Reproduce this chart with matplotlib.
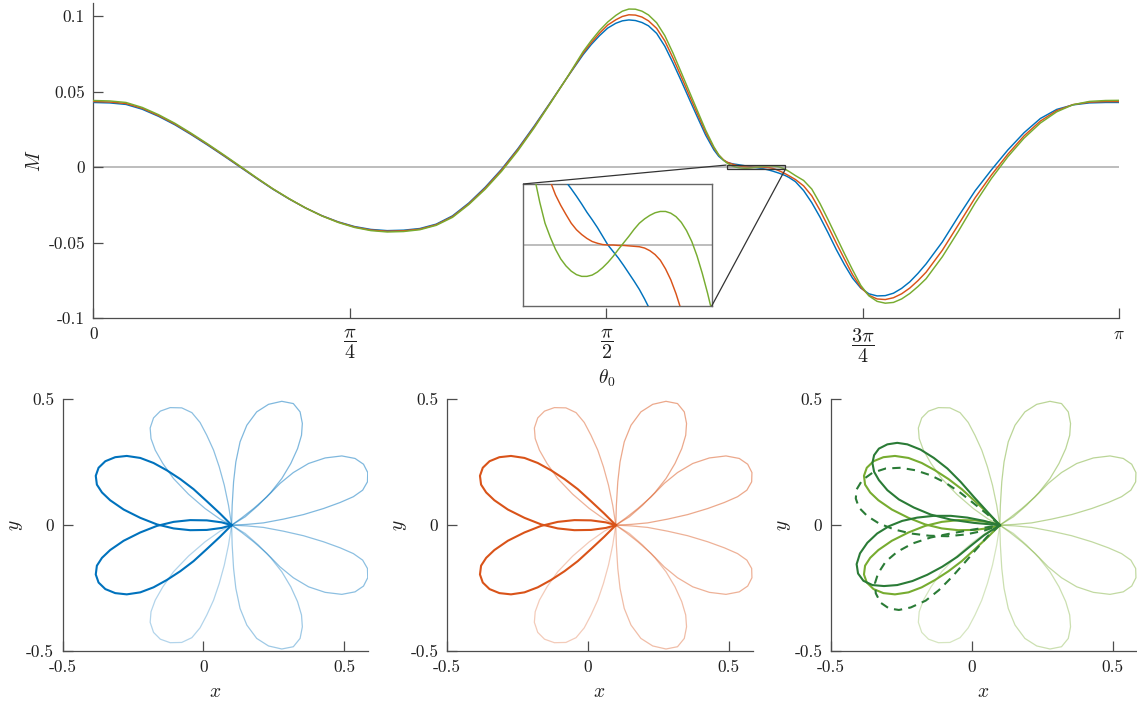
"""Torque curve M(theta_0) with zoomed inset, plus three flower-orbit panels."""

import numpy as np
import matplotlib
matplotlib.use("Agg")
import matplotlib.pyplot as plt
import matplotlib.patches as patches
from mpl_toolkits.axes_grid1.inset_locator import mark_inset

plt.rcParams["font.family"] = "cmr10"
plt.rcParams["mathtext.fontset"] = "cm"
plt.rcParams["axes.unicode_minus"] = False
plt.rcParams["axes.formatter.use_mathtext"] = True

# ---------------------------------------------------------------- top panel data
theta = [0.0, 0.05, 0.1, 0.15, 0.2, 0.25, 0.3, 0.35, 0.4, 0.45, 0.5, 0.55, 0.6, 0.65,
         0.7, 0.75, 0.8, 0.85, 0.9, 0.95, 1.0, 1.05, 1.1, 1.15, 1.2, 1.25, 1.3, 1.35,
         1.4, 1.45, 1.5,
         1.525, 1.55, 1.575, 1.6, 1.62, 1.64, 1.66, 1.68, 1.7, 1.725, 1.75, 1.775,
         1.8, 1.825, 1.85, 1.875, 1.9, 1.915, 1.93,
         1.94, 1.945, 1.95, 1.955, 1.96, 1.965, 1.97, 1.975, 1.98, 1.985, 1.99, 1.995,
         2.0, 2.005, 2.01, 2.015, 2.02, 2.025, 2.03, 2.035, 2.04, 2.045, 2.05, 2.055,
         2.06, 2.065, 2.07, 2.075, 2.08, 2.085, 2.09, 2.095, 2.1, 2.105, 2.11, 2.115,
         2.12, 2.125, 2.13,
         2.15, 2.175, 2.2, 2.225, 2.25, 2.275, 2.3, 2.325, 2.35, 2.375, 2.4, 2.425,
         2.45, 2.475, 2.5, 2.525, 2.55,
         2.6, 2.65, 2.7, 2.75, 2.8, 2.85, 2.9, 2.95, 3.0, 3.05, 3.1, 3.1416]

m_blue = [0.0428, 0.0425, 0.0415, 0.0383, 0.0336, 0.0280, 0.0215, 0.0146, 0.0074, 0.0,
          -0.0074, -0.0146, -0.0211, -0.0270, -0.0321, -0.0362, -0.0393, -0.0412,
          -0.0420, -0.0417, -0.0406, -0.0377, -0.0322, -0.0237, -0.0133, -0.0014,
          0.0122, 0.0272, 0.0430, 0.0590, 0.0745,
          0.0812, 0.0870, 0.0920, 0.0952, 0.0968, 0.0974, 0.0970, 0.0957, 0.0935,
          0.0885, 0.0800, 0.0690, 0.0572, 0.0450, 0.0330, 0.0212, 0.0115, 0.0072, 0.0045,
          0.0032, 0.0029, 0.0026, 0.00235, 0.0021, 0.00195, 0.0018, 0.00163, 0.00145,
          0.00129, 0.00112, 0.00094, 0.00075, 0.00058, 0.0004, 0.0002, 0.0, -0.00015,
          -0.0003, -0.00047, -0.00065, -0.00083, -0.00102, -0.00124, -0.00148, -0.00173,
          -0.0020, -0.0023, -0.0026, -0.00295, -0.0033, -0.00365, -0.0040, -0.0044,
          -0.0048, -0.00525, -0.0057, -0.00625, -0.0068,
          -0.0096, -0.0155, -0.0235, -0.0330, -0.0435, -0.0545, -0.0645, -0.0735,
          -0.0800, -0.0838, -0.0852, -0.0850, -0.0834, -0.0802, -0.0759, -0.0703, -0.0640,
          -0.0494, -0.0322, -0.0157, -0.0018, 0.0113, 0.0228, 0.0322, 0.0382, 0.0412,
          0.0425, 0.0428, 0.0428]

m_red = [0.0434, 0.0431, 0.0421, 0.0389, 0.0341, 0.0285, 0.0219, 0.0150, 0.0077, 0.0003,
         -0.0072, -0.0144, -0.0210, -0.0270, -0.0322, -0.0364, -0.0396, -0.0416,
         -0.0424, -0.0421, -0.0410, -0.0381, -0.0327, -0.0242, -0.0139, -0.0020,
         0.0116, 0.0266, 0.0427, 0.0590, 0.0755,
         0.0824, 0.0886, 0.0940, 0.0975, 0.0997, 0.1008, 0.1006, 0.0993, 0.0968,
         0.0918, 0.0835, 0.0722, 0.0600, 0.0475, 0.0352, 0.0230, 0.0128, 0.0080, 0.0048,
         0.0034, 0.00293, 0.0025, 0.00213, 0.0018, 0.00146, 0.00115, 0.00091, 0.0007,
         0.0005, 0.00035, 0.00024, 0.00015, 0.00008, 0.00004, 0.00001, 0.0, 0.0,
         -0.00001, -0.00001, -0.00002, -0.00003, -0.00004, -0.00007, -0.00013, -0.00022,
         -0.00035, -0.00055, -0.0008, -0.00112, -0.0015, -0.00193, -0.0024, -0.0029,
         -0.0034, -0.00395, -0.0045, -0.0051, -0.0057,
         -0.0082, -0.0124, -0.0190, -0.0285, -0.0392, -0.0502, -0.0608, -0.0712,
         -0.0795, -0.0848, -0.0872, -0.0876, -0.0864, -0.0838, -0.0800, -0.0751, -0.0695,
         -0.0549, -0.0377, -0.0203, -0.0052, 0.0085, 0.0207, 0.0305, 0.0374, 0.0414,
         0.0430, 0.0434, 0.0434]

m_green = [0.0441, 0.0438, 0.0428, 0.0395, 0.0347, 0.0290, 0.0224, 0.0154, 0.0081, 0.0006,
           -0.0070, -0.0143, -0.0209, -0.0270, -0.0323, -0.0366, -0.0399, -0.0420,
           -0.0429, -0.0426, -0.0414, -0.0385, -0.0332, -0.0247, -0.0146, -0.0028,
           0.0108, 0.0260, 0.0424, 0.0591, 0.0765,
           0.0838, 0.0904, 0.0960, 0.1004, 0.1032, 0.1046, 0.1045, 0.1032, 0.1007,
           0.0955, 0.0870, 0.0755, 0.0628, 0.0500, 0.0372, 0.0245, 0.0135, 0.0082, 0.0045,
           0.0028, 0.0021, 0.00155, 0.00098, 0.0005, 0.00018, -0.0001, -0.00032, -0.00048,
           -0.0006, -0.00068, -0.00072, -0.00072, -0.00069, -0.00062, -0.00052, -0.0004,
           -0.00026, -0.0001, 0.00005, 0.0002, 0.00036, 0.0005, 0.0006, 0.00068, 0.00074,
           0.00077, 0.00077, 0.00073, 0.00065, 0.00052, 0.00033, 0.00008, -0.00025,
           -0.00065, -0.0011, -0.0016, -0.0022, -0.0028,
           -0.0056, -0.0088, -0.0145, -0.0240, -0.0348, -0.0460, -0.0572, -0.0680,
           -0.0782, -0.0852, -0.0888, -0.0900, -0.0895, -0.0872, -0.0836, -0.0790, -0.0738,
           -0.0592, -0.0420, -0.0238, -0.0075, 0.0068, 0.0192, 0.0292, 0.0366, 0.0413,
           0.0435, 0.0441, 0.0442]

zoom_xlim = (1.939, 2.119)
zoom_ylim = (-0.0014, 0.0014)

# ---------------------------------------------------------------- petal data
# upper half of each flower; the lower half is its mirror image in y
petal_ul_x = [0.1, 0.089, 0.074, 0.056, 0.036, 0.012, -0.012, -0.041, -0.077, -0.118,
              -0.153, -0.177, -0.189, -0.186, -0.171, -0.144, -0.106, -0.053, 0.006,
              0.059, 0.1]
petal_ul_y = [0.0, 0.079, 0.159, 0.232, 0.298, 0.357, 0.408, 0.447, 0.466, 0.467,
              0.453, 0.426, 0.386, 0.344, 0.298, 0.245, 0.185, 0.123, 0.066, 0.024, 0.0]

petal_ur_x = [0.1, 0.102, 0.107, 0.115, 0.130, 0.154, 0.189, 0.231, 0.278, 0.319,
              0.343, 0.351, 0.348, 0.334, 0.310, 0.278, 0.239, 0.195, 0.148, 0.1]
petal_ur_y = [0.0, 0.079, 0.172, 0.251, 0.331, 0.397, 0.450, 0.480, 0.492, 0.483,
              0.450, 0.404, 0.357, 0.304, 0.245, 0.185, 0.130, 0.079, 0.033, 0.0]

petal_ru_x = [0.1, 0.136, 0.178, 0.225, 0.272, 0.319, 0.373, 0.432, 0.491, 0.538,
              0.568, 0.583, 0.582, 0.565, 0.532, 0.485, 0.426, 0.355, 0.284, 0.213,
              0.154, 0.1]
petal_ru_y = [0.0, 0.029, 0.066, 0.112, 0.166, 0.209, 0.245, 0.267, 0.275, 0.265,
              0.242, 0.209, 0.172, 0.139, 0.113, 0.090, 0.066, 0.042, 0.024, 0.009,
              0.003, 0.0]

petal_left_x = [0.1, 0.059, 0.012, -0.035, -0.082, -0.130, -0.177, -0.224, -0.272,
                -0.313, -0.348, -0.372, -0.382, -0.378, -0.360, -0.331, -0.283, -0.224,
                -0.165, -0.106, -0.047, 0.012, 0.065, 0.1]
petal_left_y = [0.0, 0.046, 0.095, 0.143, 0.183, 0.218, 0.247, 0.267, 0.275, 0.270,
                0.254, 0.228, 0.196, 0.161, 0.130, 0.099, 0.062, 0.029, 0.003, -0.013,
                -0.020, -0.019, -0.011, 0.0]

# extra left-hand loops of the third panel
dark_up_x = [0.1, 0.056, 0.008, -0.039, -0.086, -0.134, -0.181, -0.228, -0.264, -0.299,
             -0.329, -0.346, -0.352, -0.346, -0.329, -0.299, -0.258, -0.205, -0.145,
             -0.074, 0.008, 0.1]
dark_up_y = [0.0, 0.053, 0.112, 0.172, 0.225, 0.267, 0.300, 0.321, 0.327, 0.321,
             0.304, 0.278, 0.247, 0.212, 0.179, 0.139, 0.102, 0.070, 0.042, 0.022,
             0.009, 0.0]
dark_lo_x = [0.1, 0.044, -0.015, -0.074, -0.134, -0.193, -0.246, -0.293, -0.335, -0.370,
             -0.396, -0.408, -0.403, -0.384, -0.352, -0.311, -0.264, -0.210, -0.157,
             -0.104, -0.051, -0.004, 0.044, 0.1]
dark_lo_y = [0.0, 0.017, 0.030, 0.037, 0.037, 0.030, 0.017, -0.004, -0.033, -0.070,
             -0.112, -0.155, -0.192, -0.221, -0.238, -0.242, -0.238, -0.222, -0.197,
             -0.165, -0.126, -0.083, -0.040, 0.0]
dash_up_x = [0.1, 0.055, 0.008, -0.039, -0.092, -0.145, -0.199, -0.252, -0.305, -0.352,
             -0.388, -0.408, -0.411, -0.400, -0.370, -0.329, -0.275, -0.216, -0.151,
             -0.086, -0.021, 0.044, 0.1]
dash_up_y = [0.0, 0.044, 0.086, 0.128, 0.168, 0.198, 0.218, 0.228, 0.225, 0.208,
             0.179, 0.142, 0.106, 0.070, 0.036, 0.007, -0.017, -0.033, -0.042, -0.044,
             -0.037, -0.022, 0.0]
dash_lo_x = [0.1, 0.055, 0.014, -0.027, -0.069, -0.116, -0.163, -0.216, -0.258, -0.293,
             -0.323, -0.340, -0.343, -0.332, -0.305, -0.264, -0.210, -0.145, -0.074,
             0.008, 0.1]
dash_lo_y = [0.0, -0.046, -0.099, -0.152, -0.205, -0.258, -0.300, -0.327, -0.337, -0.331,
             -0.308, -0.271, -0.231, -0.192, -0.145, -0.106, -0.073, -0.049, -0.033,
             -0.017, 0.0]

BLUE = "#0072BD"
RED = "#D95319"
GREEN = "#77AC30"
DKGREEN = "#2A7B36"
AXC = "0.3"
TXT = "0.12"

W, H = 1137, 702


def px_axes(fig, left, top, right, bottom):
    return fig.add_axes([left / W, 1 - bottom / H, (right - left) / W, (bottom - top) / H])


def style(ax, fs=12.5):
    for side in ("top", "right"):
        ax.spines[side].set_visible(False)
    for side in ("left", "bottom"):
        ax.spines[side].set_color(AXC)
        ax.spines[side].set_linewidth(0.9)
    ax.tick_params(direction="in", length=7.5, width=0.9, color=AXC,
                   labelcolor=TXT, labelsize=fs, pad=6)


fig = plt.figure(figsize=(W / 100, H / 100), dpi=100)

# ---------------------------------------------------------------- top panel
ax = px_axes(fig, 93.3, 3, 1119.3, 318.3)
style(ax)
ax.axhline(0, color="0.72", lw=1.3, zorder=1)
for m, c in ((m_blue, BLUE), (m_red, RED), (m_green, GREEN)):
    ax.plot(theta, m, color=c, lw=1.05, zorder=3)
ax.set_xlim(0, np.pi)
ax.set_ylim(-0.1, 0.1086)
ax.set_xticks([0, np.pi / 4, np.pi / 2, 3 * np.pi / 4, np.pi])
ax.set_xticklabels(["0", r"$\dfrac{\pi}{4}$", r"$\dfrac{\pi}{2}$",
                    r"$\dfrac{3\pi}{4}$", r"$\pi$"])
for lab in ax.get_xticklabels()[1:4]:
    lab.set_fontsize(14.5)
ax.set_yticks([-0.1, -0.05, 0, 0.05, 0.1])
ax.set_yticklabels(["-0.1", "-0.05", "0", "0.05", "0.1"])
ax.set_xlabel(r"$\theta_0$", fontsize=14, color=TXT, labelpad=2)
ax.set_ylabel(r"$M$", fontsize=14, color=TXT, labelpad=3)

axins = px_axes(fig, 523, 184, 711.7, 306)
axins.axhline(0, color="0.72", lw=1.3, zorder=1)
for m, c in ((m_blue, BLUE), (m_red, RED), (m_green, GREEN)):
    axins.plot(theta, m, color=c, lw=1.05, zorder=3)
axins.set_xlim(*zoom_xlim)
axins.set_ylim(*zoom_ylim)
axins.set_xticks([])
axins.set_yticks([])
for sp in axins.spines.values():
    sp.set_color("0.4")
    sp.set_linewidth(1.0)

ax.add_patch(patches.Rectangle((zoom_xlim[0], zoom_ylim[0]),
                               zoom_xlim[1] - zoom_xlim[0], zoom_ylim[1] - zoom_ylim[0],
                               facecolor="0.5", alpha=0.3, edgecolor="none", zorder=4))
mark_inset(ax, axins, loc1=2, loc2=4, fc="none", ec="0.2", lw=0.9, zorder=5)

# ---------------------------------------------------------------- flower panels
light_petals = [(petal_ul_x, petal_ul_y, 0.45, 0.3),
                (petal_ur_x, petal_ur_y, 0.5, 0.38),
                (petal_ru_x, petal_ru_y, 0.5, 0.45)]

for i, (left, col) in enumerate([(62.5, BLUE), (446.7, RED), (830.7, GREEN)]):
    bx = px_axes(fig, left, 399.3, left + 305.8, 651)
    style(bx)
    for xs, ys, a_up, a_lo in light_petals:
        ys = np.asarray(ys)
        bx.plot(xs, ys, color=col, lw=0.9, alpha=a_up)
        bx.plot(xs, -ys, color=col, lw=0.9, alpha=a_lo)
    ly = np.asarray(petal_left_y)
    bx.plot(petal_left_x, ly, color=col, lw=1.5)
    bx.plot(petal_left_x, -ly, color=col, lw=1.5)
    if i == 2:
        bx.plot(dark_up_x, dark_up_y, color=DKGREEN, lw=1.5)
        bx.plot(dark_lo_x, dark_lo_y, color=DKGREEN, lw=1.5)
        bx.plot(dash_up_x, dash_up_y, color=DKGREEN, lw=1.5, ls=(0, (4, 3)))
        bx.plot(dash_lo_x, dash_lo_y, color=DKGREEN, lw=1.5, ls=(0, (4, 3)))
    bx.set_xlim(-0.5, 0.585)
    bx.set_ylim(-0.5, 0.5)
    bx.set_xticks([-0.5, 0, 0.5])
    bx.set_xticklabels(["-0.5", "0", "0.5"])
    bx.set_yticks([-0.5, 0, 0.5])
    bx.set_yticklabels(["-0.5", "0", "0.5"])
    bx.set_xlabel(r"$x$", fontsize=14, color=TXT, labelpad=6)
    bx.set_ylabel(r"$y$", fontsize=14, color=TXT, labelpad=1)

fig.savefig("out.png", dpi=100)
